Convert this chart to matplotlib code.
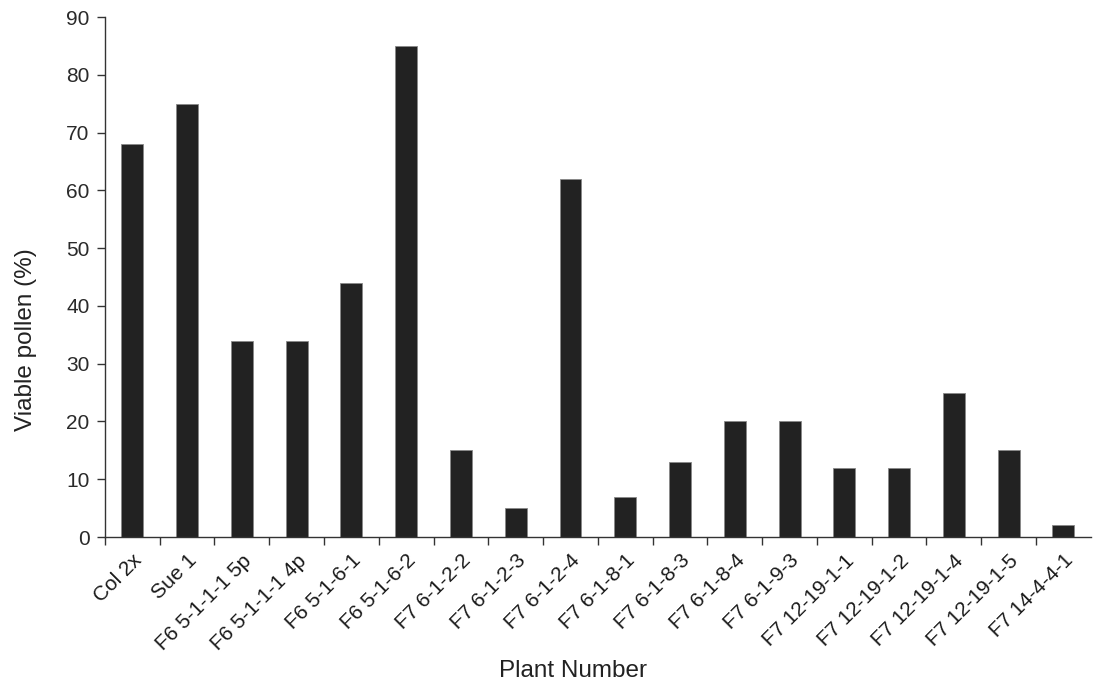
import matplotlib
matplotlib.use("Agg")
import matplotlib.pyplot as plt
import numpy as np

categories = ["Col 2x", "Sue 1", "F6 5-1-1-1 5p", "F6 5-1-1-1 4p", "F6 5-1-6-1",
              "F6 5-1-6-2", "F7 6-1-2-2", "F7 6-1-2-3", "F7 6-1-2-4", "F7 6-1-8-1",
              "F7 6-1-8-3", "F7 6-1-8-4", "F7 6-1-9-3", "F7 12-19-1-1", "F7 12-19-1-2",
              "F7 12-19-1-4", "F7 12-19-1-5", "F7 14-4-4-1"]
values = [68, 75, 34, 34, 44, 85, 15, 5, 62, 7, 13, 20, 20, 12, 12, 25, 15, 2]
yticks = [0, 10, 20, 30, 40, 50, 60, 70, 80, 90]

plt.rcParams['font.family'] = ['Liberation Sans', 'DejaVu Sans']

fig = plt.figure(figsize=(10.93, 6.89), dpi=100)
ax = fig.add_axes([0.096, 0.2206, 0.902, 0.7547])

x = np.arange(len(categories))
ax.bar(x, values, width=0.4, color='#222222', edgecolor='#888888', linewidth=0.6)

ax.set_xlim(-0.5, len(categories) - 0.5)
ax.set_ylim(0, 90)
ax.set_yticks(yticks)
ax.tick_params(axis='y', labelsize=15, length=6, width=1, color='#333333', pad=5, labelcolor='#2a2a2a')

ax.set_xticks(x)
ax.set_xticklabels(categories, rotation=45, ha='right', rotation_mode='anchor', fontsize=15, color='#1a1a1a')
ax.tick_params(axis='x', which='major', length=0, pad=10)
ax.set_xticks(np.arange(len(categories)) - 0.5, minor=True)
ax.tick_params(axis='x', which='minor', length=6, width=1, color='#333333')

for s in ['top', 'right']:
    ax.spines[s].set_visible(False)
for s in ['left', 'bottom']:
    ax.spines[s].set_color('#333333')
    ax.spines[s].set_linewidth(1)

ax.set_ylabel("Viable pollen (%)", fontsize=17.5, color='#222222')
ax.yaxis.set_label_coords(-0.069, 0.379)
ax.set_xlabel("Plant Number", fontsize=17.5, color='#222222')
ax.xaxis.set_label_coords(0.475, -0.236)

fig.savefig("out.png", dpi=100)
